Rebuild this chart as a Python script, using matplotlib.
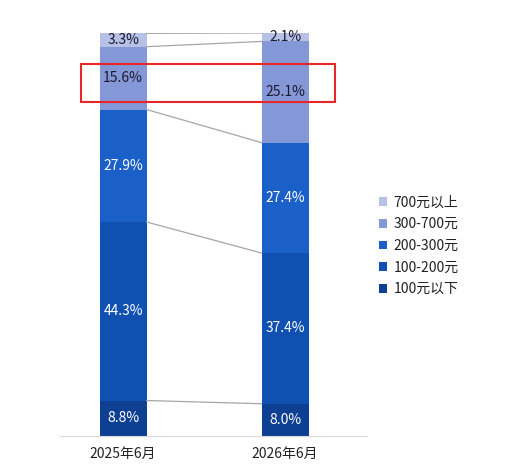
import numpy as np
import matplotlib
matplotlib.use("Agg")
import matplotlib.pyplot as plt
from matplotlib.patches import Rectangle

plt.rcParams['font.family'] = ['Noto Sans CJK SC', 'DejaVu Sans']

# data
periods = ["2025年6月", "2026年6月"]
# bottom to top
segments = ["100元以下", "100-200元", "200-300元", "300-700元", "700元以上"]
share_2025 = [8.8, 44.3, 27.9, 15.6, 3.3]
share_2026 = [8.0, 37.4, 27.4, 25.1, 2.1]
colors = ["#0d3f92", "#1050b0", "#1a60c8", "#8497d6", "#b6c1e5"]
text_colors = ["white", "white", "white", "#1b1b2f", "#1b1b2f"]

values = np.array([share_2025, share_2026])

fig = plt.figure(figsize=(5.09, 4.67), dpi=100)
ax = fig.add_axes([0.118, 0.0664, 0.603, 0.863])

x = np.arange(len(periods))
width = 0.29
bottoms = np.zeros(len(periods))
handles = []
for i, seg in enumerate(segments):
    h = ax.bar(x, values[:, i], width, bottom=bottoms, color=colors[i],
               label=seg, linewidth=0)
    handles.append(h)
    for j in range(len(periods)):
        ax.text(x[j], bottoms[j] + values[j, i] / 2, f"{values[j, i]:.1f}%",
                ha="center", va="center", fontsize=10, color=text_colors[i])
    bottoms = bottoms + values[:, i]

# connecting lines between segment boundaries
cum = np.cumsum(values, axis=1)
for k in range(cum.shape[1]):
    ax.plot([x[0] + width / 2, x[1] - width / 2], [cum[0, k], cum[1, k]],
            color="#a6a6a6", linewidth=0.9, zorder=1)

# highlight box around 300-700 segment
ax.add_patch(Rectangle((-0.261, 82.8), 1.57, 9.4, fill=False,
                       edgecolor="#e8262a", linewidth=1.5, clip_on=False, zorder=5))

ax.set_xlim(-0.389, 1.506)
ax.set_ylim(0, 100)
ax.set_xticks(x)
ax.set_xticklabels(periods, fontsize=10, color="#222222")
ax.tick_params(axis="x", length=0, pad=8)
ax.set_yticks([])
for s in ["top", "right", "left"]:
    ax.spines[s].set_visible(False)
ax.spines["bottom"].set_color("#d9d9d9")

leg = fig.legend(handles[::-1], segments[::-1], loc="upper left",
                 bbox_to_anchor=(0.72, 0.608), frameon=False, fontsize=10,
                 handlelength=0.6, handleheight=0.6, handletextpad=0.45,
                 labelspacing=0.55)
for t in leg.get_texts():
    t.set_color("#222222")

fig.savefig("out.png", dpi=100)
